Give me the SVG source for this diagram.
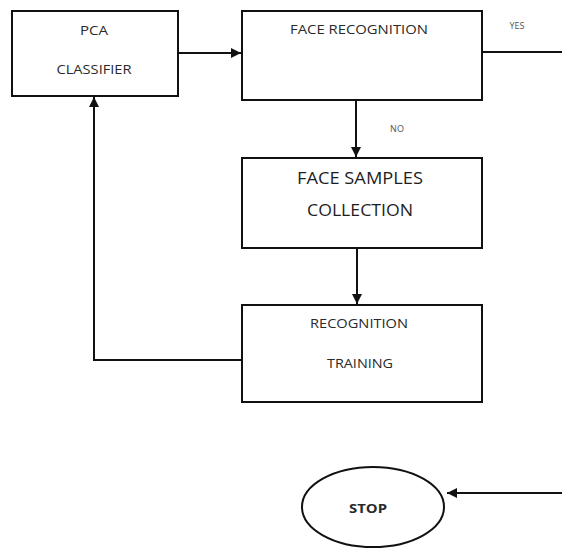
<svg xmlns="http://www.w3.org/2000/svg" width="562" height="550" viewBox="0 0 562 550">
  <style>
    .box { fill: #fff; stroke: #111; stroke-width: 2; }
    .line { fill: none; stroke: #111; stroke-width: 2; }
    .t { font-family: "Open Sans", "Liberation Sans", sans-serif; fill: #2a2a2a; text-anchor: middle; dominant-baseline: central; }
    .s { font-size: 12px; }
    .m { font-size: 13px; }
    .l { font-size: 16px; fill: #1e1e1e; }
    .xs { font-size: 9px; fill: #555; }
  </style>
  <defs>
    <marker id="arrow" viewBox="0 0 10 10" refX="10" refY="5" markerWidth="5" markerHeight="5" orient="auto" markerUnits="strokeWidth">
      <path d="M0,0 L10,5 L0,10 z" fill="#111"/>
    </marker>
  </defs>
  <rect width="562" height="550" fill="#fff"/>

  <g id="connectors">
    <line class="line" x1="178" y1="53" x2="241" y2="53" marker-end="url(#arrow)"/>
    <line class="line" x1="482" y1="52" x2="562" y2="52"/>
    <line class="line" x1="356" y1="100" x2="356" y2="157" marker-end="url(#arrow)"/>
    <line class="line" x1="357" y1="248" x2="357" y2="304" marker-end="url(#arrow)"/>
    <polyline class="line" points="242,360 94,360 94,97" marker-end="url(#arrow)"/>
    <line class="line" x1="562" y1="493" x2="447" y2="493" marker-end="url(#arrow)"/>
    <text class="t xs" x="517" y="25">YES</text>
    <text class="t xs" x="397" y="128">NO</text>
  </g>

  <g id="pca-classifier">
    <rect class="box" x="12" y="11" width="166" height="85"/>
    <text class="t m" x="94" y="30" textLength="28" lengthAdjust="spacingAndGlyphs">PCA</text>
    <text class="t m" x="94" y="69" textLength="75" lengthAdjust="spacingAndGlyphs">CLASSIFIER</text>
  </g>

  <g id="face-recognition">
    <rect class="box" x="242" y="11" width="240" height="89"/>
    <text class="t m" x="359" y="29" textLength="138" lengthAdjust="spacingAndGlyphs">FACE RECOGNITION</text>
  </g>

  <g id="face-samples">
    <rect class="box" x="242" y="158" width="240" height="90"/>
    <text class="t l" x="360" y="178" textLength="126" lengthAdjust="spacingAndGlyphs">FACE SAMPLES</text>
    <text class="t l" x="360" y="210" textLength="106" lengthAdjust="spacingAndGlyphs">COLLECTION</text>
  </g>

  <g id="recognition-training">
    <rect class="box" x="242" y="305" width="240" height="97"/>
    <text class="t s" x="359" y="323" textLength="98" lengthAdjust="spacingAndGlyphs">RECOGNITION</text>
    <text class="t s" x="360" y="363" textLength="66" lengthAdjust="spacingAndGlyphs">TRAINING</text>
  </g>

  <g id="stop">
    <ellipse class="box" cx="373" cy="507" rx="71" ry="40"/>
    <text class="t s" x="368" y="508" font-weight="bold" textLength="38" lengthAdjust="spacingAndGlyphs">STOP</text>
  </g>
</svg>
